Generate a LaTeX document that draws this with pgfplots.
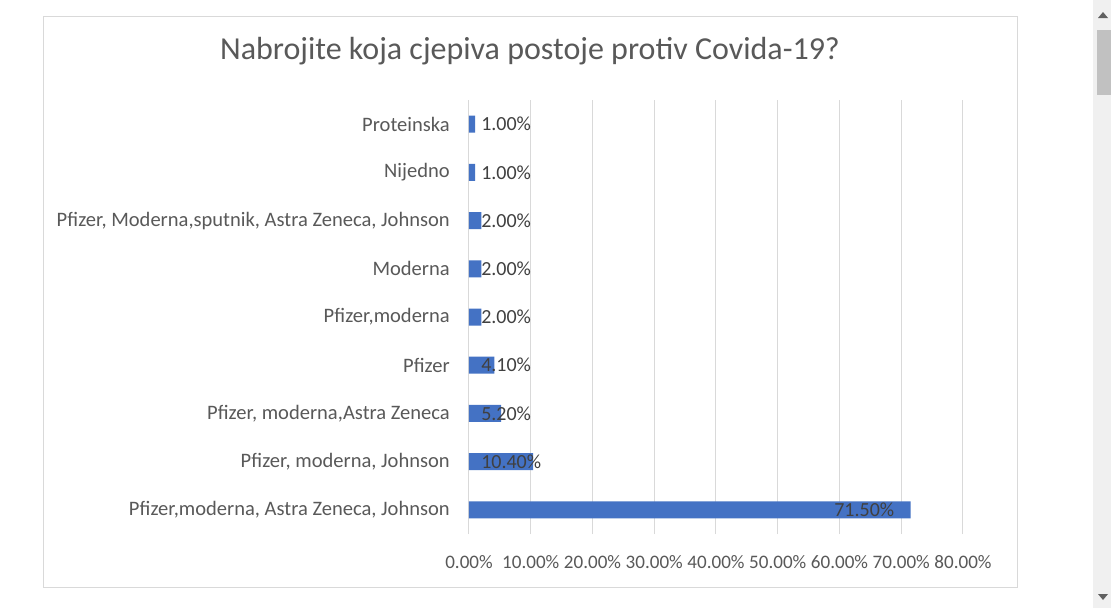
\documentclass[border=0pt]{standalone}
\usepackage{pgfplots}
\pgfplotsset{compat=1.18}
\usepackage{fontspec}
\setmainfont{Carlito}
\definecolor{barblue}{HTML}{4472C4}
\definecolor{txtgray}{HTML}{595959}
\definecolor{lblgray}{HTML}{404040}
\definecolor{gridgray}{HTML}{D9D9D9}
\definecolor{sbbg}{HTML}{F0F0F0}
\definecolor{sbthumb}{HTML}{C1C1C1}
\definecolor{sbarrow}{HTML}{606060}
\begin{document}
\begin{tikzpicture}
\begin{scope}[x=0.75pt,y=-0.75pt]
\fill[white] (0,0) rectangle (1111,608);
\draw[gridgray, line width=0.75pt] (43,16) rectangle (1017,587);
\fill[sbbg] (1093,0) rectangle (1111,608);
\fill[sbthumb] (1097,30) rectangle (1111,95);
\fill[sbarrow] (1098,18) -- (1108,18) -- (1103,12) -- cycle;
\fill[sbarrow] (1098,594) -- (1108,594) -- (1103,600) -- cycle;
\node[text=txtgray, font=\fontsize{24}{28}\selectfont] at (530,51) {Nabrojite koja cjepiva postoje protiv Covida-19?};
\end{scope}
\begin{axis}[
  at={(351.75pt,-400.5pt)}, anchor=south west,
  scale only axis, width=370.5pt, height=325.5pt,
  xmin=0, xmax=80, ymin=-0.5, ymax=8.5,
  xtick={0,10,...,80},
  xticklabels={0.00\%,10.00\%,20.00\%,30.00\%,40.00\%,50.00\%,60.00\%,70.00\%,80.00\%},
  ytick={0,...,8},
  yticklabels={{Pfizer,moderna, Astra Zeneca, Johnson},{Pfizer, moderna, Johnson},{Pfizer, moderna,Astra Zeneca},{Pfizer},{Pfizer,moderna},{Moderna},{Pfizer, Moderna,sputnik, Astra Zeneca, Johnson},{Nijedno},{Proteinska}},
  xmajorgrids, grid style={gridgray, line width=0.75pt},
  axis line style={draw=none},
  major tick length=0pt,
  tick label style={text=txtgray},
  x tick label style={font=\fontsize{14.3}{17}\selectfont, inner sep=0pt, anchor=north, yshift=-15.75pt},
  y tick label style={font=\fontsize{15.4}{18}\selectfont, inner sep=0pt, anchor=east, xshift=-14.25pt},
  clip=false,
]
\addplot[xbar, bar width=12.75pt, bar shift=0pt, fill=barblue, draw=none]
  coordinates {(71.5,0) (10.4,1) (5.2,2) (4.1,3) (2.0,4) (2.0,5) (2.0,6) (1.0,7) (1.0,8)};
\addplot[draw=none, nodes near coords, point meta=explicit symbolic,
  every node near coord/.append style={anchor=west, inner sep=0pt, xshift=9pt, text=lblgray, font=\fontsize{15}{18}\selectfont}]
  coordinates {(0,1) [10.40\%] (0,2) [5.20\%] (0,3) [4.10\%] (0,4) [2.00\%] (0,5) [2.00\%] (0,6) [2.00\%] (0,7) [1.00\%] (0,8) [1.00\%]};
\addplot[draw=none, nodes near coords, point meta=explicit symbolic,
  every node near coord/.append style={anchor=east, inner sep=0pt, xshift=-12pt, text=lblgray, font=\fontsize{15}{18}\selectfont}]
  coordinates {(71.5,0) [71.50\%]};
\end{axis}
\end{tikzpicture}
\end{document}
